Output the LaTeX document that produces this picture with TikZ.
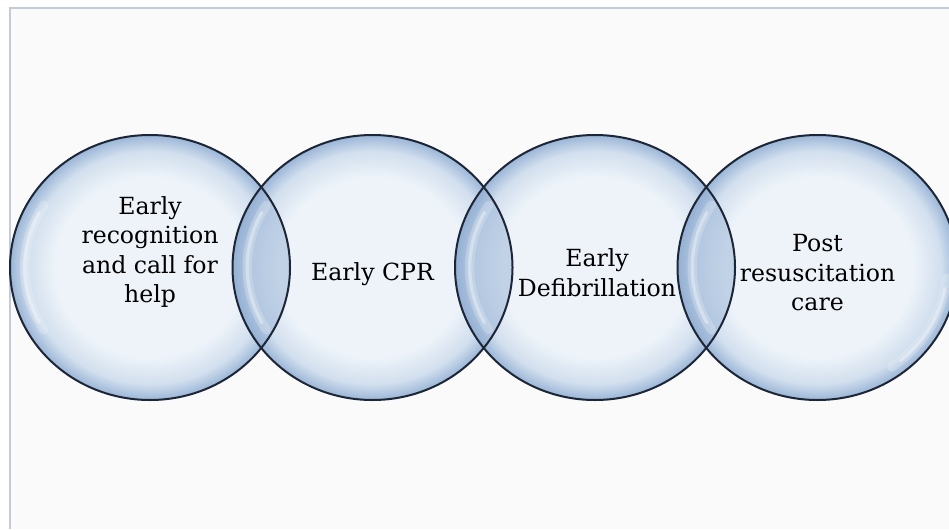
\documentclass[tikz,border=0pt]{standalone}
\usepackage{fontspec}
\setmainfont{DejaVu Serif}
\usetikzlibrary{shapes,positioning}
\definecolor{rimline}{RGB}{28,38,54}
\definecolor{bubcore}{RGB}{237,243,249}
\definecolor{bubmid}{RGB}{210,223,238}
\definecolor{bubedge}{RGB}{155,182,215}
\definecolor{lensblue}{RGB}{140,170,208}
\definecolor{framegray}{RGB}{196,203,216}
\definecolor{pagegray}{RGB}{250,250,250}
\pgfdeclareradialshading{bubble}{\pgfpoint{0bp}{0bp}}{color(0bp)=(bubcore); color(17bp)=(bubcore); color(22bp)=(bubmid); color(25bp)=(bubedge); color(50bp)=(bubedge)}

\begin{document}
\begin{tikzpicture}[x=0.75pt, y=-0.75pt,
    bubble/.style={ellipse, shading=bubble, minimum width=210pt, minimum height=198.75pt, inner sep=0pt, outer sep=0pt},
    rim/.style={draw=rimline, line width=1.5pt},
    gloss/.style={white, opacity=.22, line width=7pt, line cap=round},
    glosscore/.style={white, opacity=.35, line width=2.5pt, line cap=round},
    caption/.style={align=center, text=black, font=\fontsize{17.7pt}{22.1pt}\selectfont}]

    \useasboundingbox (0,0) rectangle (949,529);
    \fill[pagegray] (10,8) rectangle (949,529);
    \draw[framegray, line width=1.1pt] (10,529) -- (10,8) -- (949,8);

    \node[bubble] (recog) at (150,267.5) {};
    \node[bubble, right=-43.125pt of recog] (cpr) {};
    \node[bubble, right=-43.125pt of cpr] (defib) {};
    \node[bubble, right=-43.125pt of defib] (post) {};

    \foreach \a/\b in {recog/cpr, cpr/defib, defib/post} {
        \begin{scope}
            \clip (\a.center) ellipse [x radius=105pt, y radius=99.375pt];
            \fill[lensblue, opacity=.45] (\b.center) ellipse [x radius=105pt, y radius=99.375pt];
        \end{scope}
    }

    \foreach \b in {recog, cpr, defib, post} {
        \draw[gloss] ([shift={(148:94pt and 88pt)}]\b.center) arc [start angle=148, end angle=212, x radius=94pt, y radius=88pt];
        \draw[glosscore] ([shift={(152:94pt and 88pt)}]\b.center) arc [start angle=152, end angle=208, x radius=94pt, y radius=88pt];
    }
    \draw[gloss] ([shift={(-55:97pt and 91pt)}]post.center) arc [start angle=-55, end angle=-5, x radius=97pt, y radius=91pt];
    \draw[glosscore] ([shift={(-50:97pt and 91pt)}]post.center) arc [start angle=-50, end angle=-10, x radius=97pt, y radius=91pt];

    \foreach \b in {recog, cpr, defib, post}
        \draw[rim] (\b.center) ellipse [x radius=105pt, y radius=99.375pt];

    \node[caption] (recogtext) at ([yshift=11.6pt]recog.center) {Early\\recognition\\and call for\\help};
    \node[caption] (cprtext) at ([yshift=-5.2pt]cpr.center) {Early CPR};
    \node[caption] (defibtext) at ([xshift=1.5pt, yshift=-3.8pt]defib.center) {Early\\Defibrillation};
    \node[caption] (posttext) at ([yshift=-3.8pt]post.center) {Post\\resuscitation\\care};
\end{tikzpicture}
\end{document}
